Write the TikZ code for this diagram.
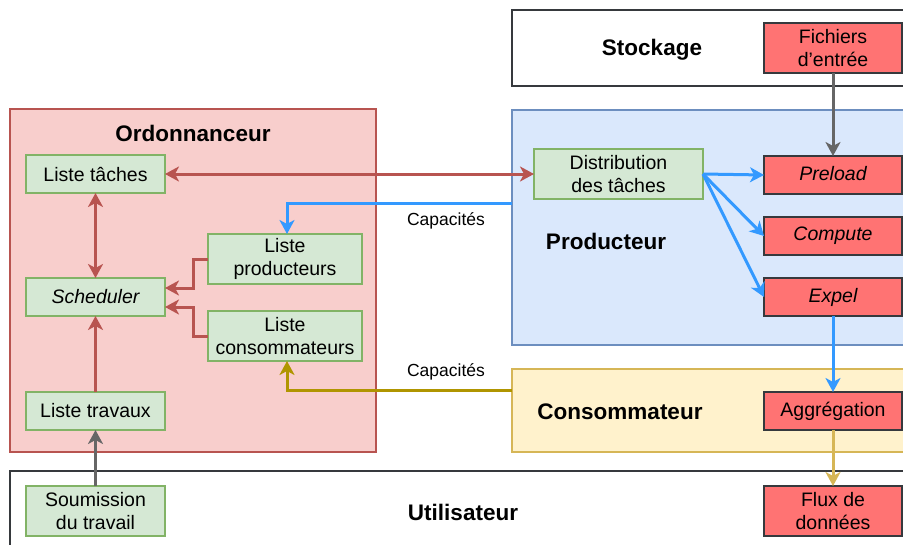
\documentclass[tikz,border=0pt]{standalone}
\usepackage{fontspec}
\setmainfont{Liberation Sans}
\usetikzlibrary{arrows.meta,calc}
\definecolor{gfill}{HTML}{D5E8D4}\definecolor{gdraw}{HTML}{82B366}
\definecolor{rfill}{HTML}{F8CECC}\definecolor{rdraw}{HTML}{B85450}
\definecolor{bfill}{HTML}{DAE8FC}\definecolor{bdraw}{HTML}{6C8EBF}
\definecolor{yfill}{HTML}{FFF2CC}\definecolor{ydraw}{HTML}{D6B656}
\definecolor{nfill}{HTML}{FF7373}\definecolor{ndraw}{HTML}{36393D}
\definecolor{ablue}{HTML}{3399FF}\definecolor{aolive}{HTML}{B09500}
\definecolor{agrey}{HTML}{666666}
\begin{document}
\begin{tikzpicture}[x=1pt,y=-1pt,
  every node/.style={inner sep=0pt,outer sep=0pt},
  txt/.style={font=\fontsize{19.5}{23}\selectfont,align=center},
  title/.style={font=\fontsize{22.5}{26}\selectfont\bfseries},
  captxt/.style={font=\fontsize{17.5}{21}\selectfont},
  cont/.style={draw,line width=1.5pt,rectangle},
  gbox/.style={txt,draw=gdraw,fill=gfill,line width=1.3pt,minimum width=139pt,minimum height=38pt},
  rbox/.style={txt,draw=ndraw,fill=nfill,line width=1.3pt,minimum width=138pt,minimum height=38pt},
  arr/.style={line width=3pt,-{Stealth[length=14pt,width=15pt,inset=4pt]}},
  darr/.style={line width=3pt,{Stealth[length=14pt,width=15pt,inset=4pt]}-{Stealth[length=14pt,width=15pt,inset=4pt]}},
]
\useasboundingbox (0,0) rectangle (903,544);
\clip (0,0) rectangle (903,544);
% containers
\node[cont,draw=ndraw,fill=white,minimum width=403pt,minimum height=76pt] (stock) at (713.5,48) {};
\node[cont,draw=bdraw,fill=bfill,minimum width=403pt,minimum height=235pt] (prod) at (713.5,227.5) {};
\node[cont,draw=rdraw,fill=rfill,minimum width=366pt,minimum height=343pt] (ordo) at (193,280.5) {};
\node[cont,draw=ydraw,fill=yfill,minimum width=403pt,minimum height=83pt] (cons) at (713.5,410.5) {};
\node[cont,draw=ndraw,fill=white,minimum width=905pt,minimum height=89pt] (util) at (462.5,515.5) {};
% titles
\node[title] (tstock) at (652,50) {Stockage};
\node[title] (tprod) at (606,241) {Producteur};
\node[title] (tordo) at (193,133) {Ordonnanceur};
\node[title] (tcons) at (620,412) {Consommateur};
\node[title] (tutil) at (463,512) {Utilisateur};
% inner nodes
\node[gbox] (ltach) at (95.5,174) {Liste tâches};
\node[gbox] (sched) at (95.5,297) {\itshape Scheduler};
\node[gbox] (ltrav) at (95.5,411) {Liste travaux};
\node[gbox,minimum height=50pt] (soum) at (95.5,511) {Soumission\\du travail};
\node[gbox,minimum width=154pt,minimum height=50pt] (lprod) at (285,259) {Liste\\producteurs};
\node[gbox,minimum width=154pt,minimum height=50pt] (lcons) at (285,336) {Liste\\consommateurs};
\node[gbox,minimum width=169pt,minimum height=50pt] (dist) at (618.5,174) {Distribution\\des tâches};
\node[rbox,minimum height=50pt] (fich) at (833,48) {Fichiers\\d'entrée};
\node[rbox] (prel) at (833,175) {\itshape Preload\vphantom{g}};
\node[rbox] (comp) at (833,236) {\itshape Compute};
\node[rbox] (expel) at (833,297) {\itshape Expel};
\node[rbox] (aggr) at (833,411) {Aggrégation};
\node[rbox,minimum height=50pt] (flux) at (833,511) {Flux de\\données};
% labels
\node[captxt] (capa1) at (446,221) {Capacités};
\node[captxt] (capa2) at (446,372) {Capacités};
\coordinate (cP) at (512,203);
\coordinate (cC) at (512,390);
% connectors
\draw[darr,rdraw] (ltach.east) -- (dist.west);
\draw[darr,rdraw] (ltach.south) -- (sched.north);
\draw[arr,rdraw] (ltrav.north) -- (sched.south);
\draw[arr,rdraw] (lprod.west) -- ++(-15,0) |- ([yshift=9pt]sched.east);
\draw[arr,rdraw] (lcons.west) -- ++(-15,0) |- ([yshift=-10pt]sched.east);
\draw[arr,ablue] (cP) -| ([xshift=2pt]lprod.north);
\draw[arr,aolive] (cC) -| ([xshift=2pt]lcons.south);
\draw[arr,agrey] (soum.north) -- (ltrav.south);
\draw[arr,agrey] (fich.south) -- (prel.north);
\draw[arr,ablue] (dist.east) -- (prel.west);
\draw[arr,ablue] (dist.east) -- (comp.west);
\draw[arr,ablue] (dist.east) -- (expel.west);
\draw[arr,ablue] (expel.south) -- (aggr.north);
\draw[arr,ydraw] (aggr.south) -- (flux.north);
\end{tikzpicture}
\end{document}
